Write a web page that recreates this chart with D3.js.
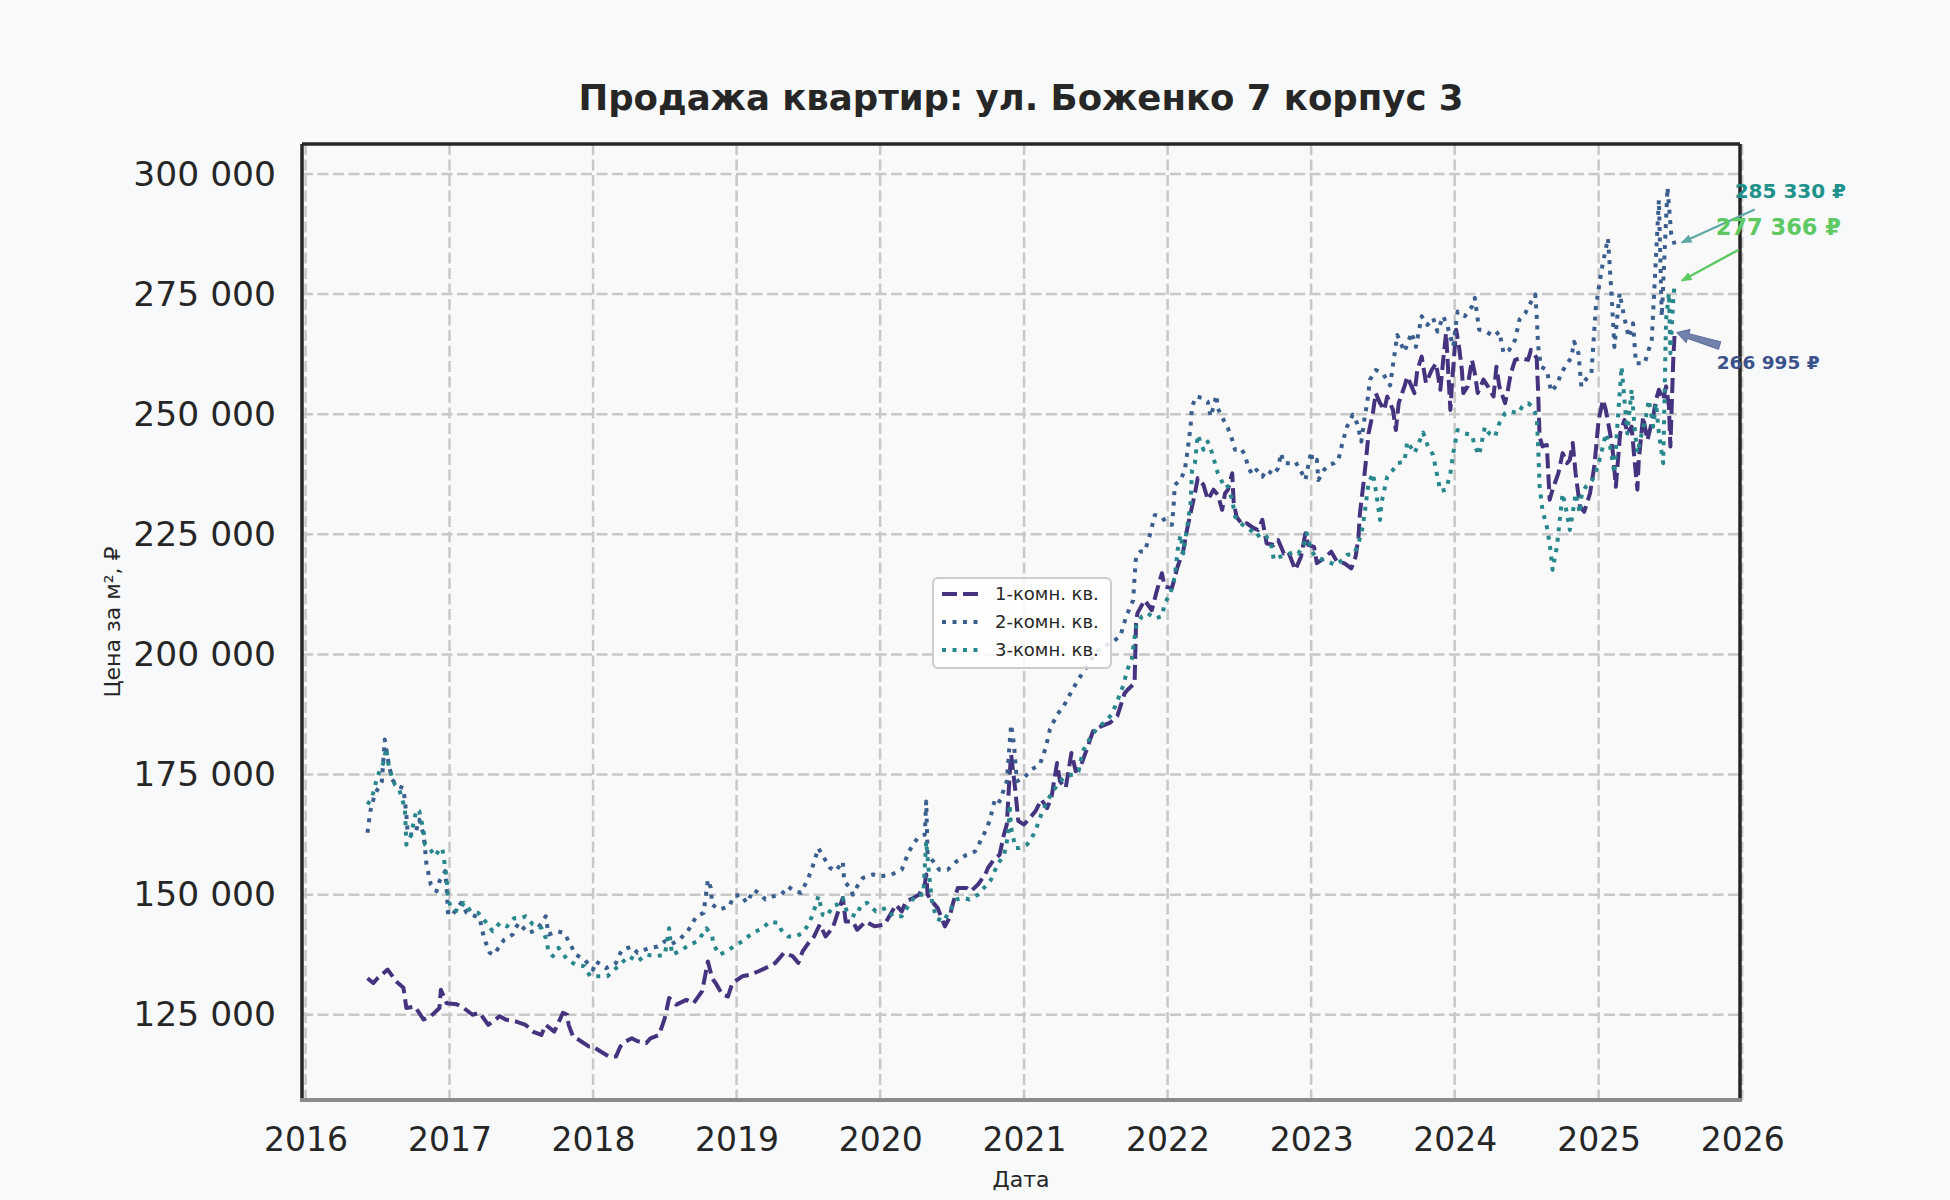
<!DOCTYPE html>
<html>
<head>
<meta charset="utf-8">
<script src="https://cdn.jsdelivr.net/npm/d3@7"></script>
<style>
  body { margin: 0; background: #f8f9fa; }
  svg { display: block; font-family: "DejaVu Sans", sans-serif; }
</style>
</head>
<body>
<div id="chart"></div>
<script>
// Цена за м² по типам квартир: [год (дробный), цена]
var oneRoom = [
  [2016.43,132600],[2016.47,131600],[2016.50,132600],[2016.57,134400],[2016.63,131900],[2016.68,130600],[2016.70,126400],[2016.76,126700],
  [2016.82,124000],[2016.87,124700],[2016.93,126400],[2016.94,130200],[2016.98,127400],[2017.05,127200],[2017.10,126400],[2017.16,125000],
  [2017.21,125400],[2017.27,122900],[2017.35,124700],[2017.39,124000],[2017.46,123600],[2017.53,122900],[2017.58,121500],[2017.64,120800],
  [2017.67,122900],[2017.73,121500],[2017.79,125400],[2017.82,125000],[2017.83,122900],[2017.86,120500],[2017.90,119800],[2017.97,118400],
  [2018.00,118400],[2018.05,117400],[2018.11,116300],[2018.16,116300],[2018.19,118400],[2018.23,119500],[2018.27,120100],[2018.31,119500],
  [2018.37,119100],[2018.40,120100],[2018.46,120800],[2018.50,124300],[2018.53,128500],[2018.58,127100],[2018.65,128100],[2018.70,127400],
  [2018.76,129900],[2018.80,136100],[2018.83,132600],[2018.86,131300],[2018.90,129200],[2018.94,128800],[2018.97,131600],[2019.04,133000],
  [2019.09,133300],[2019.15,134000],[2019.20,134700],[2019.27,135800],[2019.33,137900],[2019.39,137200],[2019.43,135800],[2019.46,138200],
  [2019.50,139900],[2019.54,141300],[2019.58,143800],[2019.62,141300],[2019.67,143100],[2019.70,145800],[2019.74,149300],[2019.76,144400],
  [2019.81,144400],[2019.84,142700],[2019.90,144400],[2019.96,143400],[2020.03,143750],[2020.07,145800],[2020.11,147900],[2020.15,146500],
  [2020.18,148600],[2020.23,149300],[2020.27,150000],[2020.31,152100],[2020.32,154200],[2020.33,150000],[2020.36,148600],[2020.40,147200],
  [2020.45,143400],[2020.48,145100],[2020.51,148600],[2020.54,151400],[2020.60,151400],[2020.63,150700],[2020.68,152100],[2020.73,154200],
  [2020.75,155600],[2020.79,157300],[2020.83,158300],[2020.86,162500],[2020.88,164600],[2020.90,175000],[2020.91,179200],[2020.94,171500],
  [2020.96,165300],[2021.00,164600],[2021.03,165600],[2021.08,167400],[2021.12,169800],[2021.16,168000],[2021.19,170100],[2021.23,177400],
  [2021.25,173600],[2021.29,172200],[2021.33,179500],[2021.36,175700],[2021.39,176400],[2021.44,180500],[2021.48,184000],[2021.54,185100],
  [2021.60,185800],[2021.65,187200],[2021.70,191900],[2021.72,192600],[2021.77,194000],[2021.78,206500],[2021.79,208600],[2021.84,211300],
  [2021.89,209200],[2021.92,212700],[2021.96,216900],[2021.98,214100],[2022.03,213800],[2022.07,218300],[2022.11,221700],[2022.13,225200],
  [2022.16,229400],[2022.19,233500],[2022.21,236700],[2022.25,235300],[2022.28,232200],[2022.32,234300],[2022.35,233200],[2022.38,230100],
  [2022.40,233500],[2022.42,234300],[2022.45,237700],[2022.46,231800],[2022.48,228700],[2022.52,227000],[2022.55,227300],[2022.60,226300],
  [2022.63,225900],[2022.66,228000],[2022.69,223100],[2022.74,222800],[2022.77,223800],[2022.81,221000],[2022.84,221400],[2022.89,217600],
  [2022.93,220400],[2022.96,225200],[2022.98,222800],[2023.02,222400],[2023.04,219000],[2023.09,220000],[2023.14,221400],[2023.18,219300],
  [2023.23,219000],[2023.28,217900],[2023.31,220400],[2023.33,224500],[2023.34,229400],[2023.37,237000],[2023.38,239800],[2023.40,246000],
  [2023.43,250200],[2023.45,254400],[2023.48,252300],[2023.51,250900],[2023.53,253700],[2023.57,250900],[2023.59,246700],[2023.61,252300],
  [2023.65,255800],[2023.67,257800],[2023.72,254400],[2023.74,259200],[2023.77,262000],[2023.80,256500],[2023.84,259200],[2023.87,260600],
  [2023.90,255100],[2023.92,261300],[2023.94,266900],[2023.97,250900],[2023.98,255800],[2024.01,267600],[2024.03,264100],[2024.05,259200],
  [2024.06,254400],[2024.09,255800],[2024.12,261300],[2024.14,258500],[2024.16,254400],[2024.20,257200],[2024.23,255800],[2024.27,253700],
  [2024.29,259900],[2024.31,255800],[2024.35,252300],[2024.37,255100],[2024.39,258500],[2024.42,261300],[2024.46,261700],[2024.51,261300],
  [2024.53,263400],[2024.57,261700],[2024.58,254400],[2024.59,245300],[2024.61,243300],[2024.64,243600],[2024.66,232200],[2024.68,234300],
  [2024.72,237700],[2024.75,241900],[2024.78,239800],[2024.80,240500],[2024.82,244000],[2024.84,237700],[2024.87,230800],[2024.90,229700],
  [2024.94,233500],[2024.97,239100],[2025.00,248800],[2025.03,253000],[2025.05,250900],[2025.08,246000],[2025.10,241900],[2025.12,234900],
  [2025.15,246000],[2025.18,248800],[2025.20,246000],[2025.23,247400],[2025.25,240500],[2025.27,234300],[2025.28,240500],[2025.31,249500],
  [2025.34,244600],[2025.38,249500],[2025.40,253000],[2025.42,255100],[2025.45,253000],[2025.47,255800],[2025.49,251600],[2025.50,243300],
  [2025.52,261300],[2025.53,266995]
];

var twoRoom = [
  [2016.43,162900],[2016.45,167400],[2016.48,170800],[2016.53,173600],[2016.55,182300],[2016.57,178500],[2016.60,174000],[2016.64,172600],
  [2016.68,172200],[2016.70,166700],[2016.71,162500],[2016.76,162500],[2016.79,165600],[2016.82,162500],[2016.84,156300],[2016.87,152100],
  [2016.91,150700],[2016.93,152800],[2016.97,154900],[2016.98,151400],[2016.99,145800],[2017.02,145800],[2017.08,148300],[2017.12,146200],
  [2017.16,145800],[2017.21,145100],[2017.24,141000],[2017.28,137900],[2017.31,137500],[2017.34,138900],[2017.38,140600],[2017.44,141700],
  [2017.48,144100],[2017.55,142000],[2017.61,142700],[2017.67,145500],[2017.69,141700],[2017.75,142400],[2017.80,142000],[2017.83,140300],
  [2017.88,137500],[2017.94,136500],[2018.00,134400],[2018.02,136100],[2018.09,134700],[2018.16,135800],[2018.20,138500],[2018.27,139200],
  [2018.31,137900],[2018.39,138900],[2018.45,139200],[2018.50,140300],[2018.54,139600],[2018.60,140600],[2018.66,142400],[2018.72,145500],
  [2018.77,146200],[2018.80,153100],[2018.82,151400],[2018.83,147900],[2018.88,146900],[2018.95,147600],[2018.98,149700],[2019.03,150000],
  [2019.07,148300],[2019.12,151000],[2019.17,150000],[2019.20,149000],[2019.26,149700],[2019.31,150000],[2019.36,151700],[2019.40,150700],
  [2019.45,150400],[2019.50,153500],[2019.53,155900],[2019.57,159700],[2019.61,157600],[2019.65,155600],[2019.69,154900],[2019.74,156900],
  [2019.75,152800],[2019.79,151400],[2019.81,150000],[2019.84,151700],[2019.88,153500],[2019.95,154200],[2020.00,153800],[2020.08,154200],
  [2020.15,155200],[2020.20,159000],[2020.26,161800],[2020.31,162500],[2020.32,169400],[2020.33,158300],[2020.37,156900],[2020.41,155200],
  [2020.47,155200],[2020.53,156900],[2020.60,158300],[2020.66,159000],[2020.72,162500],[2020.76,165300],[2020.80,170100],[2020.83,169400],
  [2020.88,173600],[2020.91,185400],[2020.93,181300],[2020.95,173600],[2021.00,174300],[2021.05,176000],[2021.11,177100],[2021.15,180500],
  [2021.18,184400],[2021.23,187500],[2021.27,188900],[2021.32,191700],[2021.37,194400],[2021.41,196200],[2021.46,198600],[2021.51,200700],
  [2021.58,202000],[2021.67,203700],[2021.71,207800],[2021.76,211300],[2021.77,216200],[2021.78,220400],[2021.81,221400],[2021.84,221400],
  [2021.88,225200],[2021.91,229000],[2021.96,228700],[2021.99,227300],[2022.03,227000],[2022.04,230100],[2022.05,235300],[2022.09,236300],
  [2022.12,238400],[2022.14,242600],[2022.16,247400],[2022.17,251600],[2022.20,253700],[2022.25,253300],[2022.28,252600],[2022.30,249500],
  [2022.32,251600],[2022.34,254000],[2022.35,251200],[2022.39,248800],[2022.42,247100],[2022.45,244700],[2022.47,242600],[2022.51,242900],
  [2022.54,241500],[2022.56,239100],[2022.59,237400],[2022.62,238400],[2022.66,237000],[2022.69,238400],[2022.74,237400],[2022.77,238800],
  [2022.79,241900],[2022.81,239800],[2022.86,239800],[2022.89,240100],[2022.93,238100],[2022.96,236300],[2023.00,242200],[2023.01,240100],
  [2023.04,240500],[2023.05,236300],[2023.09,238400],[2023.12,239400],[2023.16,239800],[2023.19,240500],[2023.22,244300],[2023.25,247400],
  [2023.29,249900],[2023.32,248100],[2023.35,244300],[2023.37,248800],[2023.39,252300],[2023.41,257200],[2023.45,259200],[2023.50,258500],
  [2023.55,256000],[2023.60,266500],[2023.65,263000],[2023.70,267000],[2023.73,264000],[2023.77,270400],[2023.81,268600],[2023.85,270000],
  [2023.88,267200],[2023.92,270400],[2023.95,268300],[2023.99,264100],[2024.02,271400],[2024.07,270400],[2024.12,272400],[2024.14,274200],
  [2024.17,267600],[2024.22,267200],[2024.27,266200],[2024.31,267200],[2024.34,262700],[2024.38,263400],[2024.42,265500],[2024.45,269700],
  [2024.49,271000],[2024.52,272800],[2024.56,274900],[2024.57,270400],[2024.58,264100],[2024.60,259900],[2024.64,259200],[2024.67,254700],
  [2024.71,256100],[2024.74,258500],[2024.78,260600],[2024.81,261700],[2024.83,265100],[2024.86,262700],[2024.88,255800],[2024.91,257200],
  [2024.95,258500],[2024.98,272000],[2025.02,280000],[2025.065,286600],[2025.09,275000],[2025.11,264000],[2025.146,275200],[2025.18,270000],
  [2025.21,266000],[2025.24,268900],[2025.26,260600],[2025.32,260600],[2025.37,265400],[2025.42,294600],[2025.44,270300],[2025.48,297200],
  [2025.505,287700],[2025.53,285330]
];

var threeRoom = [
  [2016.43,168800],[2016.46,170100],[2016.50,174700],[2016.54,177400],[2016.56,180500],[2016.58,176400],[2016.62,172900],[2016.65,171900],
  [2016.69,168000],[2016.70,160400],[2016.73,162200],[2016.77,167700],[2016.79,167400],[2016.82,163200],[2016.83,160400],[2016.86,159700],
  [2016.90,158000],[2016.93,159400],[2016.95,159700],[2016.98,153500],[2016.99,149300],[2017.01,147200],[2017.06,146500],[2017.10,148300],
  [2017.15,146500],[2017.20,146200],[2017.25,144400],[2017.30,142400],[2017.35,144100],[2017.40,143400],[2017.45,145100],[2017.50,145100],
  [2017.53,145500],[2017.58,143800],[2017.64,143100],[2017.67,141000],[2017.69,138200],[2017.72,137200],[2017.76,138900],[2017.82,136500],
  [2017.88,135400],[2017.94,135100],[2017.98,133000],[2018.04,133000],[2018.10,133000],[2018.16,134700],[2018.25,137200],[2018.31,136100],
  [2018.37,137500],[2018.44,137200],[2018.50,137500],[2018.53,143000],[2018.55,137500],[2018.62,138500],[2018.67,139600],[2018.73,140300],
  [2018.79,143000],[2018.83,141300],[2018.84,139600],[2018.88,137500],[2018.93,138200],[2019.00,139600],[2019.04,140300],[2019.11,142000],
  [2019.18,143000],[2019.23,144400],[2019.29,144100],[2019.31,142700],[2019.36,141300],[2019.41,141300],[2019.46,142000],[2019.50,143800],
  [2019.53,145800],[2019.57,149700],[2019.60,145800],[2019.63,145500],[2019.67,147600],[2019.70,147900],[2019.74,149300],[2019.77,146200],
  [2019.83,145500],[2019.87,147900],[2019.91,148300],[2019.97,146500],[2020.04,147200],[2020.09,145500],[2020.15,145500],[2020.20,147900],
  [2020.25,150000],[2020.30,150000],[2020.32,161100],[2020.34,154200],[2020.36,148600],[2020.39,145100],[2020.44,144400],[2020.48,146500],
  [2020.53,149000],[2020.58,149300],[2020.62,149000],[2020.68,150000],[2020.73,151700],[2020.77,153100],[2020.82,156600],[2020.86,158000],
  [2020.89,162500],[2020.90,168800],[2020.91,163900],[2020.94,159700],[2020.97,159700],[2021.02,160400],[2021.05,161500],[2021.09,164200],
  [2021.12,166700],[2021.16,169400],[2021.20,171500],[2021.25,173600],[2021.30,174700],[2021.34,175000],[2021.38,175700],[2021.41,179900],
  [2021.46,182600],[2021.51,184700],[2021.57,186100],[2021.61,187500],[2021.65,190300],[2021.69,193500],[2021.72,196800],[2021.75,199000],
  [2021.78,205800],[2021.82,207900],[2021.86,208600],[2021.91,207500],[2021.96,207900],[2021.98,210600],[2022.02,212700],[2022.05,216200],
  [2022.07,221700],[2022.09,224900],[2022.11,221000],[2022.13,225200],[2022.16,231500],[2022.17,238400],[2022.19,239800],[2022.21,245700],
  [2022.25,242600],[2022.28,244300],[2022.31,241900],[2022.33,239800],[2022.35,237700],[2022.39,235300],[2022.41,235600],[2022.45,232200],
  [2022.47,228700],[2022.51,227300],[2022.54,226600],[2022.59,225600],[2022.62,224500],[2022.65,225200],[2022.68,224900],[2022.72,223100],
  [2022.74,219700],[2022.79,220400],[2022.83,220700],[2022.88,221400],[2022.91,221000],[2022.95,222800],[2022.97,225200],[2023.00,221700],
  [2023.03,220400],[2023.08,219700],[2023.12,219300],[2023.17,218600],[2023.22,219700],[2023.25,220700],[2023.30,221000],[2023.33,223100],
  [2023.36,226600],[2023.40,235600],[2023.43,237700],[2023.45,234300],[2023.48,228000],[2023.49,231500],[2023.51,234300],[2023.53,237000],
  [2023.57,238400],[2023.60,239800],[2023.65,240100],[2023.67,244300],[2023.72,241900],[2023.78,246200],[2023.81,243600],[2023.85,241500],
  [2023.88,237000],[2023.90,234000],[2023.94,234300],[2023.97,237700],[2023.99,241900],[2024.02,246700],[2024.07,246000],[2024.12,245700],
  [2024.14,243300],[2024.17,241500],[2024.21,247400],[2024.24,246000],[2024.28,245300],[2024.31,248100],[2024.35,250200],[2024.39,250600],
  [2024.44,250200],[2024.47,251600],[2024.51,252300],[2024.54,251600],[2024.57,249500],[2024.58,243300],[2024.59,235000],[2024.61,230000],
  [2024.64,226600],[2024.66,223100],[2024.68,217600],[2024.71,222400],[2024.73,228000],[2024.75,233500],[2024.78,229400],[2024.80,225900],
  [2024.82,229400],[2024.84,233500],[2024.87,229400],[2024.88,232800],[2024.91,234900],[2024.94,235600],[2024.97,237000],[2025.00,239800],
  [2025.03,243300],[2025.05,246000],[2025.08,243300],[2025.11,237700],[2025.13,247400],[2025.16,259900],[2025.18,253000],[2025.20,246000],
  [2025.23,255100],[2025.25,247400],[2025.27,241900],[2025.30,246000],[2025.33,249500],[2025.35,253000],[2025.38,247400],[2025.40,252300],
  [2025.42,246000],[2025.45,239800],[2025.47,269700],[2025.49,275200],[2025.50,262700],[2025.52,273800],[2025.53,277366]
];

var seriesNames = ["1-комн. кв.", "2-комн. кв.", "3-комн. кв."];
var yTicks = [125000, 150000, 175000, 200000, 225000, 250000, 275000, 300000];
var xTickYears = [2016, 2017, 2018, 2019, 2020, 2021, 2022, 2023, 2024, 2025, 2026];

// дробный год -> Date
function toDate(t) {
    var yr = Math.floor(t);
    var a = Date.UTC(yr, 0, 1), b = Date.UTC(yr + 1, 0, 1);
    return new Date(a + (t - yr) * (b - a));
}

var W = 1950, H = 1200;
var margin = {top: 144, right: 210, bottom: 100, left: 302};
var width = W - margin.left - margin.right,
    height = H - margin.top - margin.bottom;

var allSeries = [oneRoom, twoRoom, threeRoom];
var colors = ["#45337f", "#3a5e8e", "#28878d"];
var dashes = ["15,6", "4,6.5", "4,6.5"];

var svg = d3.select("#chart").append("svg")
    .attr("width", W).attr("height", H)
    .style("background", "#f8f9fa");

var g = svg.append("g").attr("transform", "translate(" + margin.left + "," + margin.top + ")");

// scales with 5% padding like matplotlib
var allPts = d3.merge(allSeries);
var tExt = d3.extent(allPts, d => d[0]);
var vExt = d3.extent(allPts, d => d[1]);
var tPad = (tExt[1] - tExt[0]) * 0.05, vPad = (vExt[1] - vExt[0]) * 0.05;

var x = d3.scaleUtc()
    .domain([toDate(tExt[0] - tPad), toDate(tExt[1] + tPad)])
    .range([0, width]);
var y = d3.scaleLinear()
    .domain([vExt[0] - vPad, vExt[1] + vPad])
    .range([height, 0]);

g.append("rect").attr("width", width).attr("height", height).attr("fill", "#f9f9fa");

// grid
g.append("g").selectAll("line").data(yTicks).enter().append("line")
    .attr("x1", 0).attr("x2", width)
    .attr("y1", d => y(d)).attr("y2", d => y(d))
    .attr("stroke", "#c8c8c8").attr("stroke-width", 2.5).attr("stroke-dasharray", "11,4.5");
g.append("g").selectAll("line").data(xTickYears).enter().append("line")
    .attr("y1", 0).attr("y2", height)
    .attr("x1", d => x(toDate(d))).attr("x2", d => x(toDate(d)))
    .attr("stroke", "#c8c8c8").attr("stroke-width", 2.5).attr("stroke-dasharray", "11,4.5");

// axes (labels only, no tick marks)
var yAxis = g.append("g")
    .call(d3.axisLeft(y).tickValues(yTicks).tickSize(0).tickPadding(26)
        .tickFormat(d => d3.format(",")(d).replace(/,/g, " ")));
var xAxis = g.append("g").attr("transform", "translate(0," + height + ")")
    .call(d3.axisBottom(x).tickValues(xTickYears.map(toDate)).tickSize(0).tickPadding(28)
        .tickFormat(d3.utcFormat("%Y")));
[yAxis, xAxis].forEach(function(a) {
    a.select(".domain").remove();
    a.selectAll("text").attr("fill", "#262626").style("font-family", "DejaVu Sans, sans-serif");
});
yAxis.selectAll("text").style("font-size", "34.5px");
xAxis.selectAll("text").style("font-size", "33px");

// lines
var line = d3.line().x(d => x(toDate(d[0]))).y(d => y(d[1]));
allSeries.forEach(function(s, i) {
    g.append("path").datum(s)
        .attr("d", line)
        .attr("fill", "none")
        .attr("stroke", colors[i])
        .attr("stroke-width", 4)
        .attr("stroke-dasharray", dashes[i])
        .attr("stroke-linejoin", "round");
});

// spines
g.append("line").attr("x1", 0).attr("x2", width).attr("y1", 0).attr("y2", 0)
    .attr("stroke", "#262626").attr("stroke-width", 3.5);
g.append("line").attr("x1", 0).attr("x2", 0).attr("y1", 0).attr("y2", height)
    .attr("stroke", "#262626").attr("stroke-width", 3.5);
g.append("line").attr("x1", width).attr("x2", width).attr("y1", 0).attr("y2", height)
    .attr("stroke", "#262626").attr("stroke-width", 3.5);
g.append("line").attr("x1", -2).attr("x2", width + 2).attr("y1", height).attr("y2", height)
    .attr("stroke", "#8a8a8a").attr("stroke-width", 4);

// title and axis labels
svg.append("text").attr("x", margin.left + width / 2).attr("y", 110)
    .attr("text-anchor", "middle").attr("fill", "#262626")
    .style("font-size", "35.5px").style("font-weight", "bold")
    .text("Продажа квартир: ул. Боженко 7 корпус 3");
svg.append("text").attr("x", margin.left + width / 2).attr("y", 1187)
    .attr("text-anchor", "middle").attr("fill", "#262626").style("font-size", "22px")
    .text("Дата");
svg.append("text")
    .attr("transform", "translate(120," + (margin.top + height / 2) + ") rotate(-90)")
    .attr("text-anchor", "middle").attr("fill", "#262626").style("font-size", "22px")
    .text("Цена за м², ₽");

// legend
var lg = svg.append("g").attr("transform", "translate(933,578)");
lg.append("rect").attr("width", 178).attr("height", 90).attr("rx", 5)
    .attr("fill", "#ffffff").attr("fill-opacity", 0.85)
    .attr("stroke", "#cccccc").attr("stroke-width", 2);
seriesNames.forEach(function(name, i) {
    var yy = 16 + i * 28;
    lg.append("line").attr("x1", 9).attr("x2", 45).attr("y1", yy).attr("y2", yy)
        .attr("stroke", colors[i]).attr("stroke-width", 4).attr("stroke-dasharray", dashes[i]);
    lg.append("text").attr("x", 62).attr("y", yy).attr("dy", "0.35em")
        .attr("fill", "#262626").style("font-size", "18px").text(name);
});

// annotations of last values
var fmt = v => d3.format(",")(v).replace(/,/g, " ") + " ₽";
var defs = svg.append("defs");
function head(id, col) {
    defs.append("marker").attr("id", id).attr("viewBox", "0 0 10 10")
        .attr("refX", 9).attr("refY", 5).attr("markerWidth", 11).attr("markerHeight", 11)
        .attr("markerUnits", "userSpaceOnUse").attr("orient", "auto")
        .append("path").attr("d", "M0,1 L10,5 L0,9 Z").attr("fill", col);
}
head("hTeal", "#5fa9a6");
head("hGreen", "#5ec962");

var ann = [
    {s: twoRoom, col: "#21918c", size: 20, dx: 60, dy: -46, ax: [80, -35], at: [7, -2], arrow: "hTeal", acol: "#5fa9a6"},
    {s: threeRoom, col: "#5ec962", size: 22.5, dx: 41, dy: -48, ax: [64, -33], at: [7, -2], arrow: "hGreen", acol: "#5ec962"},
    {s: oneRoom, col: "#3b528b", size: 18.5, dx: 42, dy: 36, ax: [45, 13], at: [2, 0], arrow: null, acol: "#5b6c9c"}
];
ann.forEach(function(a) {
    var last = a.s[a.s.length - 1];
    var px = margin.left + x(toDate(last[0])), py = margin.top + y(last[1]);
    if (a.arrow) {
        svg.append("line")
            .attr("x1", px + a.ax[0]).attr("y1", py + a.ax[1])
            .attr("x2", px + a.at[0]).attr("y2", py + a.at[1])
            .attr("stroke", a.acol).attr("stroke-width", 2.4)
            .attr("marker-end", "url(#" + a.arrow + ")");
    } else {
        // wedge-like fancy arrow
        var x0 = px + a.ax[0], y0 = py + a.ax[1], x1 = px + a.at[0], y1 = py + a.at[1];
        var ang = Math.atan2(y1 - y0, x1 - x0), len = Math.hypot(x1 - x0, y1 - y0);
        var pts = [[0, -4], [len - 12, -2.5], [len - 12, -7], [len, 0], [len - 12, 7], [len - 12, 2.5], [0, 4]];
        var c = Math.cos(ang), sn = Math.sin(ang);
        svg.append("path")
            .attr("d", "M" + pts.map(p => [x0 + p[0] * c - p[1] * sn, y0 + p[0] * sn + p[1] * c].join(",")).join("L") + "Z")
            .attr("fill", a.acol).attr("fill-opacity", 0.85)
            .attr("stroke", "#3b528b").attr("stroke-width", 1).attr("stroke-opacity", 0.7);
    }
    svg.append("text").attr("x", px + a.dx).attr("y", py + a.dy)
        .attr("fill", a.col).style("font-size", a.size + "px").style("font-weight", "bold")
        .text(fmt(last[1]));
});
</script>
</body>
</html>
